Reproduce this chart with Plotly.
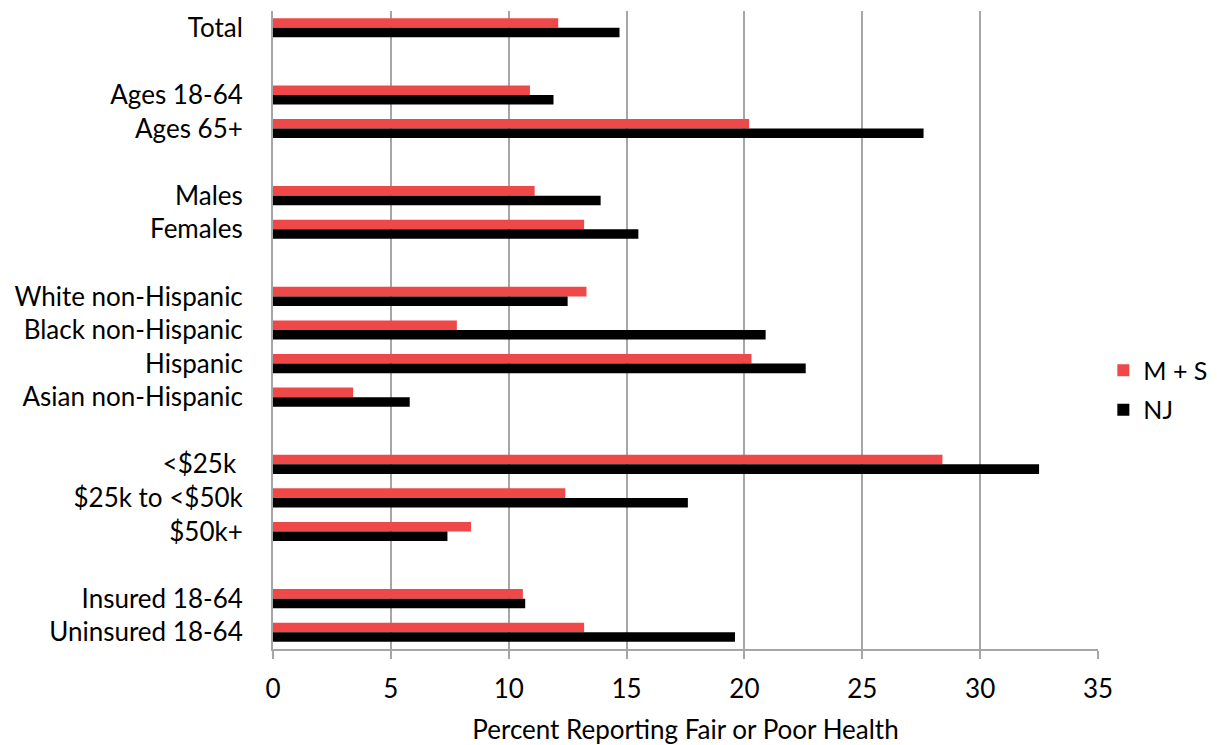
import plotly.graph_objects as go

categories = ["Total", " ", "Ages 18-64", "Ages 65+", "  ", "Males", "Females", "   ",
              "White non-Hispanic", "Black non-Hispanic", "Hispanic", "Asian non-Hispanic", "    ",
              "<$25k ", "$25k to <$50k", "$50k+", "     ", "Insured 18-64", "Uninsured 18-64"]
ms_values = [12.1, None, 10.9, 20.2, None, 11.1, 13.2, None,
             13.3, 7.8, 20.3, 3.4, None,
             28.4, 12.4, 8.4, None, 10.6, 13.2]
nj_values = [14.7, None, 11.9, 27.6, None, 13.9, 15.5, None,
             12.5, 20.9, 22.6, 5.8, None,
             32.5, 17.6, 7.4, None, 10.7, 19.6]
x_ticks = [0, 5, 10, 15, 20, 25, 30, 35]

FONT = "Lato, Open Sans, sans-serif"
FS = 26

fig = go.Figure()
fig.add_trace(go.Bar(y=categories, x=ms_values, orientation="h", name="M + S",
                     marker=dict(color="#EF4848", line=dict(width=0)), legendgroup="a"))
fig.add_trace(go.Bar(y=categories, x=nj_values, orientation="h", name="NJ",
                     marker=dict(color="#000000", line=dict(width=0)), legendgroup="b"))

fig.update_layout(
    width=1209, height=737,
    margin=dict(l=265, r=119, t=3, b=96, autoexpand=False),
    paper_bgcolor="white", plot_bgcolor="white",
    barmode="group", bargap=0.43, bargroupgap=0,
    font=dict(family=FONT, size=FS, color="#000000"),
    legend=dict(x=0.906, y=0.4817, xref="container", yref="container",
                xanchor="left", yanchor="middle",
                traceorder="grouped", tracegroupgap=4,
                font=dict(size=25), itemwidth=30, borderwidth=0,
                bgcolor="rgba(0,0,0,0)"),
    showlegend=True,
)
fig.update_xaxes(range=[0, 35], tickvals=x_ticks, showgrid=True, gridcolor="#A6A6A6", gridwidth=2,
                 showline=True, linecolor="#A6A6A6", linewidth=2,
                 ticks="outside", ticklen=8, tickcolor="#A6A6A6", tickwidth=2,
                 ticklabelstandoff=8,
                 title=dict(text="Percent Reporting Fair or Poor Health", standoff=22,
                            font=dict(size=FS)),
                 tickfont=dict(size=FS), zeroline=False, automargin=False)
fig.update_yaxes(type="category", categoryorder="array", categoryarray=categories,
                 autorange="reversed", showline=True, linecolor="#A6A6A6", linewidth=2,
                 ticks="", showgrid=False, tickfont=dict(size=FS), ticklabelstandoff=23,
                 automargin=False)

fig.write_html("out.html")
